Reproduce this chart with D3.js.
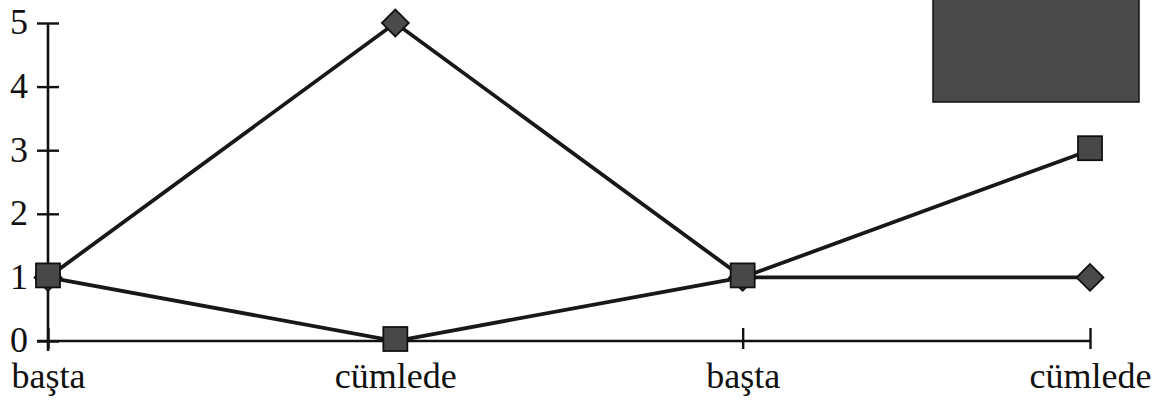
<!DOCTYPE html>
<html>
<head>
<meta charset="utf-8">
<script src="https://cdn.jsdelivr.net/npm/d3@7"></script>
<style>
  body { margin: 0; background: #fff; }
  svg { display: block; }
  text { font-family: "Liberation Serif", "Times New Roman", serif; fill: #111; }
</style>
</head>
<body>
<svg id="chart" width="1165" height="401"></svg>
<script>
// kategoriler en ustte
const categories = ["başta", "cümlede", "başta", "cümlede"];
const diamondValues = [1, 5, 1, 1];
const squareValues = [1, 0, 1, 3];
const yTicks = [0, 1, 2, 3, 4, 5];

const svg = d3.select("#chart");

const x = d3.scalePoint()
    .domain(d3.range(categories.length))
    .range([48, 1090]);

const y = d3.scaleLinear()
    .domain([0, 5])
    .range([341, 23]);

// y as
const yAxis = svg.append("g")
    .attr("transform", `translate(${x(0)},0)`)
    .call(d3.axisLeft(y).tickValues(yTicks).tickSize(11).tickSizeOuter(0).tickFormat(d3.format("d")));
yAxis.select(".domain").remove();
yAxis.selectAll(".tick line").attr("x2", -11).attr("x1", 11).attr("stroke", "#111").attr("stroke-width", 2.4);
yAxis.selectAll(".tick text").attr("x", -20).attr("dy", "0.3em").style("font-size", "36px");
yAxis.append("line")
    .attr("y1", y(5)).attr("y2", y(0) + 10)
    .attr("stroke", "#111").attr("stroke-width", 2.6);

// x as
const xAxis = svg.append("g")
    .attr("transform", `translate(0,${y(0)})`)
    .call(d3.axisBottom(x).tickSize(7).tickSizeOuter(0).tickFormat(i => categories[i]));
xAxis.select(".domain").remove();
xAxis.selectAll(".tick line").attr("y1", -13).attr("y2", 8).attr("stroke", "#111").attr("stroke-width", 2.4);
xAxis.selectAll(".tick text").attr("y", 47).attr("dy", 0).style("font-size", "36px");
xAxis.append("line")
    .attr("x1", x(0) - 11).attr("x2", x(3))
    .attr("stroke", "#111").attr("stroke-width", 2.6);

// lijnen
const line = d3.line()
    .x((d, i) => x(i))
    .y(d => y(d));

[diamondValues, squareValues].forEach(vals => {
    svg.append("path")
        .datum(vals)
        .attr("d", line)
        .attr("fill", "none")
        .attr("stroke", "#181818")
        .attr("stroke-width", 3.8);
});

// markers
svg.selectAll(".diamond")
    .data(diamondValues)
    .join("path")
    .attr("class", "diamond")
    .attr("transform", (d, i) => `translate(${x(i)},${y(d)}) rotate(45)`)
    .attr("d", "M-9.5,-9.5H9.5V9.5H-9.5Z")
    .attr("fill", "#4a4a4a")
    .attr("stroke", "#111")
    .attr("stroke-width", 1.8);

svg.selectAll(".square")
    .data(squareValues)
    .join("rect")
    .attr("class", "square")
    .attr("x", (d, i) => x(i) - 12)
    .attr("y", d => y(d) - 14)
    .attr("width", 24)
    .attr("height", 24)
    .attr("fill", "#484848")
    .attr("stroke", "#111")
    .attr("stroke-width", 1.8);

// legenda vlak (gescand, donker)
svg.append("rect")
    .attr("x", 933).attr("y", -2)
    .attr("width", 206).attr("height", 104)
    .attr("fill", "#4a4a4a")
    .attr("stroke", "#111")
    .attr("stroke-width", 1.5);
</script>
</body>
</html>
